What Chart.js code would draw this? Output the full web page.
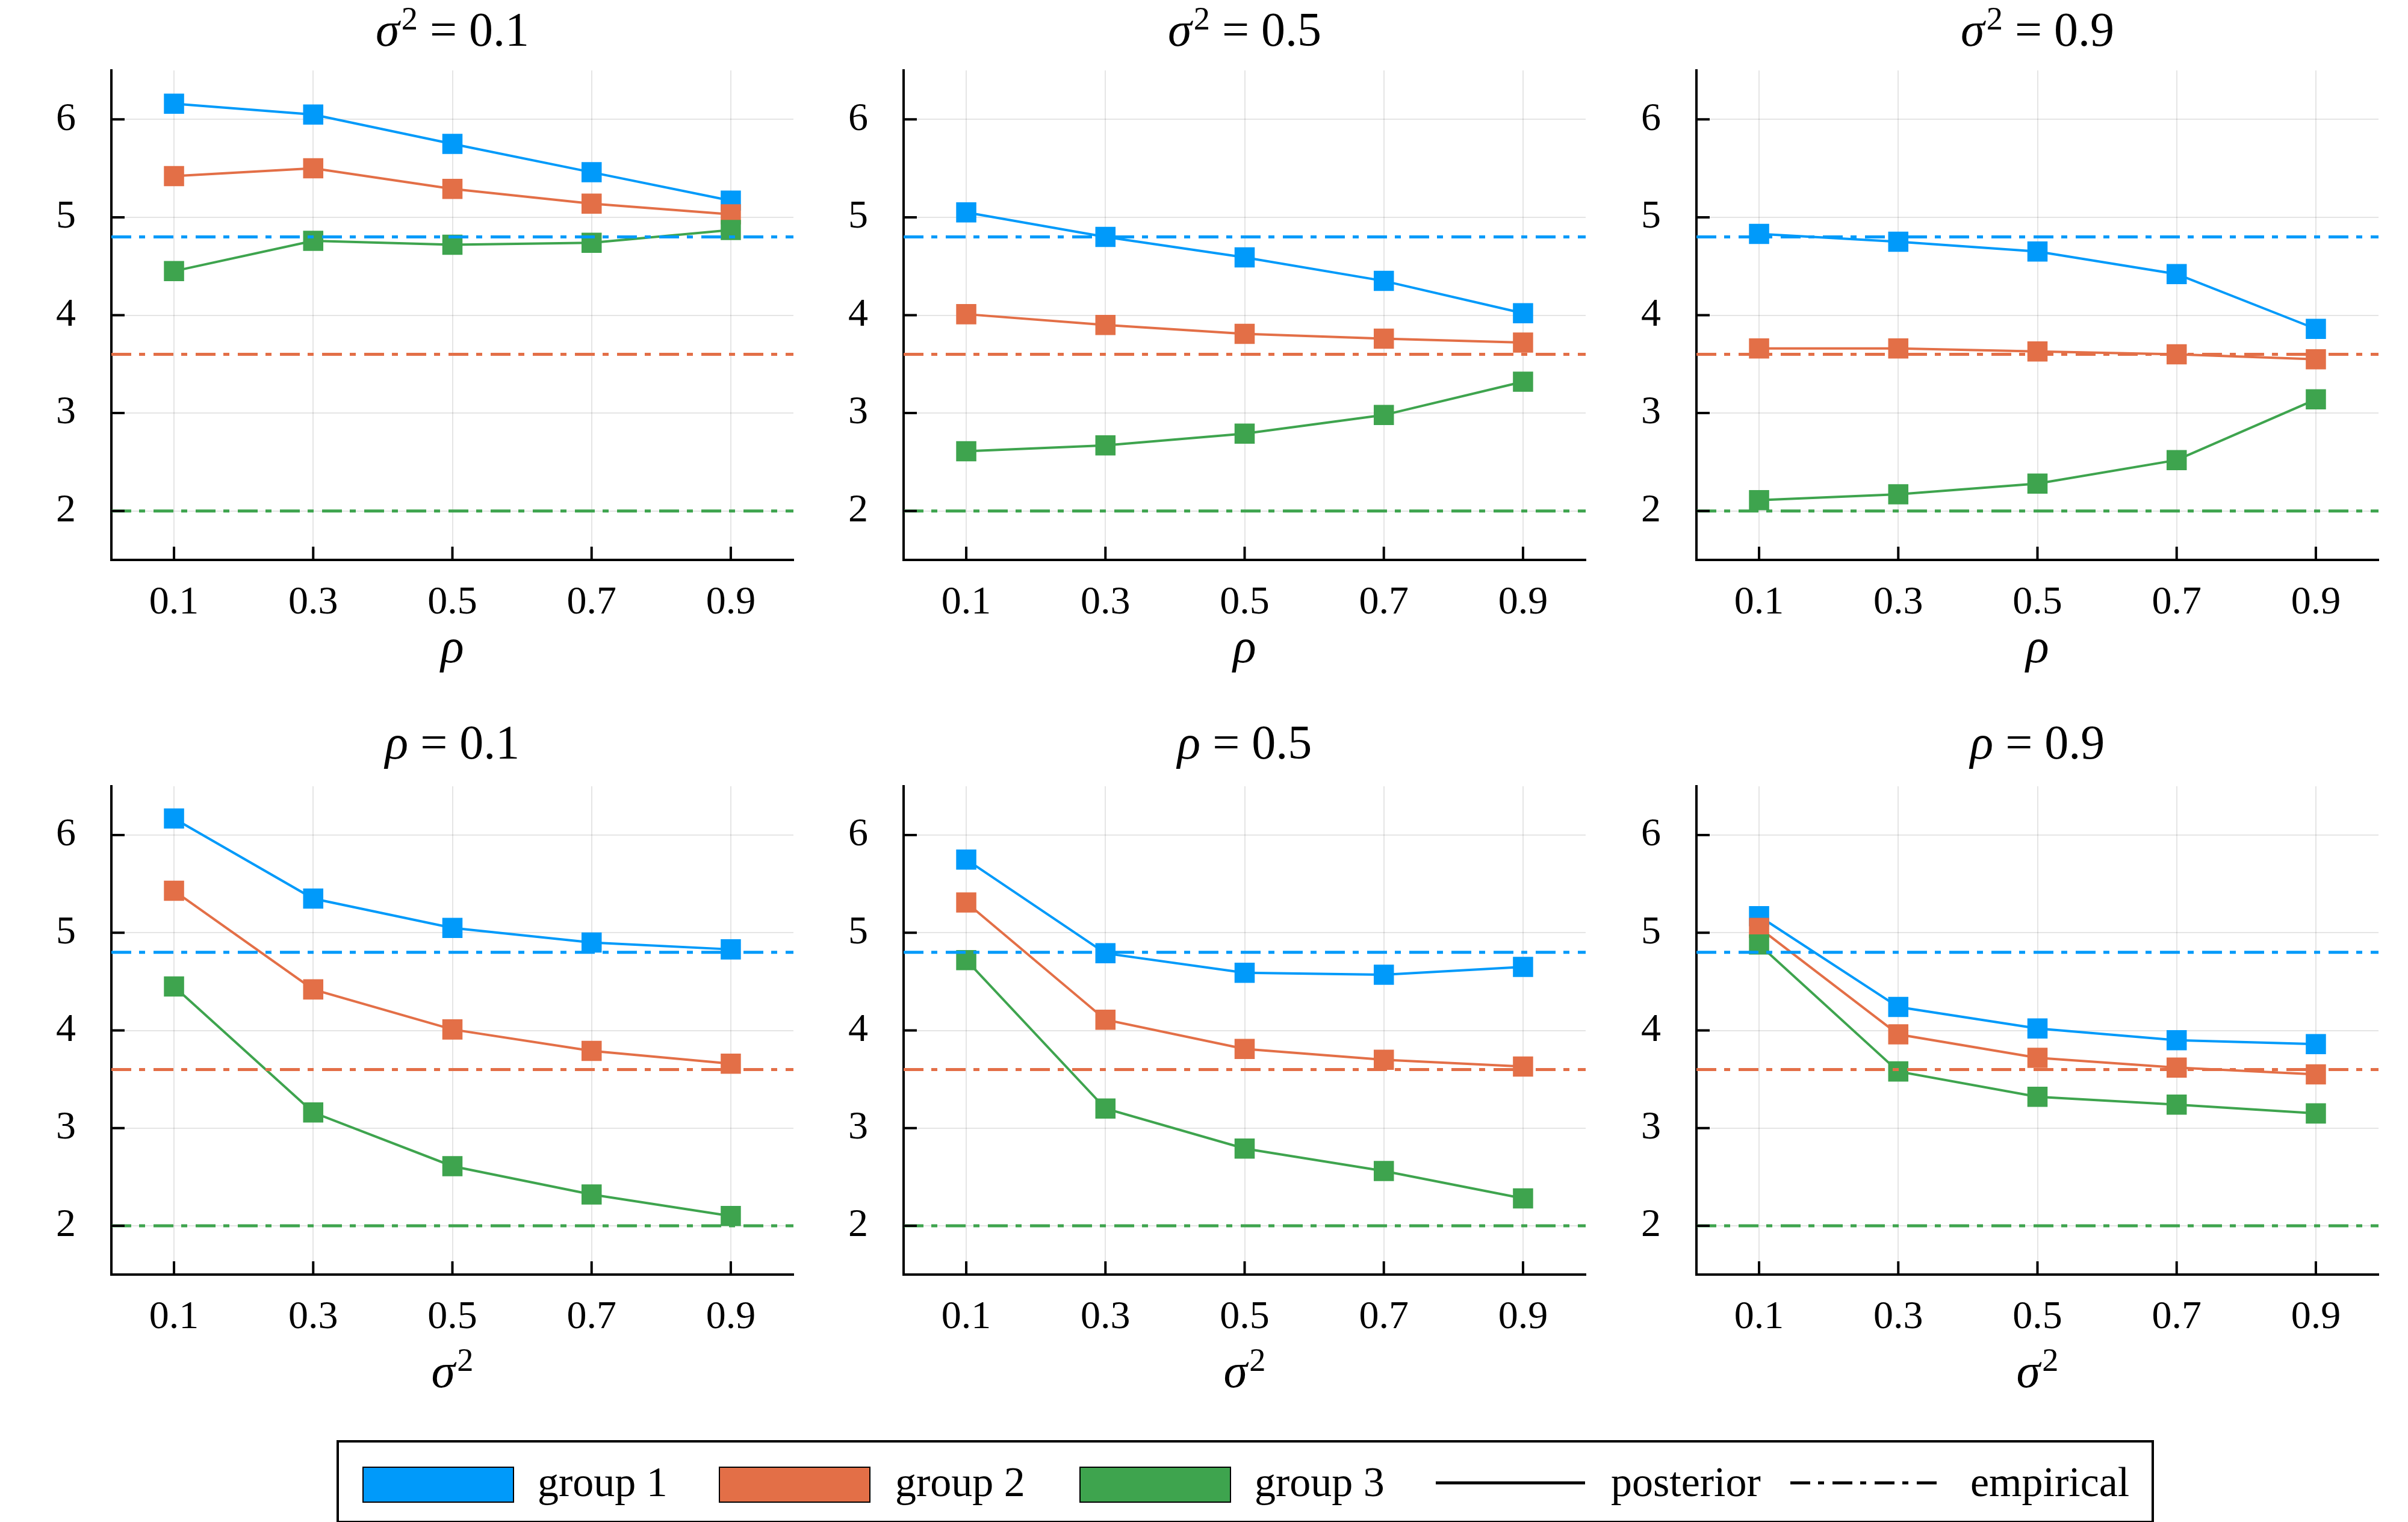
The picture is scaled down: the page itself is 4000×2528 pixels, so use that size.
<!DOCTYPE html>
<html>
<head>
<meta charset="utf-8">
<script src="https://cdn.jsdelivr.net/npm/chart.js@4.4.0/dist/chart.umd.min.js"></script>
<style>
  html, body { margin: 0; padding: 0; background: #fff; }
  body { width: 4000px; height: 2528px; position: relative; overflow: hidden; font-family: 'Liberation Serif', 'DejaVu Serif', serif; color: #000; }
  .abs { position: absolute; }
  .lbl { position: absolute; white-space: nowrap; line-height: 1; transform: translateX(-50%); }
  .sup { font-size: 0.68em; position: relative; top: -0.5em; margin-left: 0.06em; font-style: normal; }
  #legend { position: absolute; left: 559px; top: 2392px; width: 3011px; height: 130px; border: 4px solid #000; background: #fff; }
  .patch { position: absolute; height: 56px; width: 248px; border: 2px solid #000; top: 40px; }
  .ltxt { position: absolute; font-size: 70px; line-height: 1; white-space: nowrap; }
</style>
</head>
<body>
<script>
// ---------------- data ----------------
const xValues = [0.1, 0.3, 0.5, 0.7, 0.9];
const xTicks = [0.1, 0.3, 0.5, 0.7, 0.9];
const yTicks = [2, 3, 4, 5, 6];
const xMin = 0.01, xMax = 0.99;
const yMin = 1.5, yMax = 6.5;
const groupNames = ['group 1', 'group 2', 'group 3'];
const empirical = [4.8, 3.6, 2.0];

// top row: fixed sigma^2, varying rho
const sigma01_g1 = [6.16, 6.05, 5.75, 5.46, 5.17];
const sigma01_g2 = [5.42, 5.50, 5.29, 5.14, 5.03];
const sigma01_g3 = [4.45, 4.76, 4.72, 4.74, 4.87];
const sigma05_g1 = [5.05, 4.80, 4.59, 4.35, 4.02];
const sigma05_g2 = [4.01, 3.90, 3.81, 3.76, 3.72];
const sigma05_g3 = [2.61, 2.67, 2.79, 2.98, 3.32];
const sigma09_g1 = [4.83, 4.75, 4.65, 4.42, 3.86];
const sigma09_g2 = [3.66, 3.66, 3.63, 3.60, 3.55];
const sigma09_g3 = [2.11, 2.17, 2.28, 2.52, 3.14];
// bottom row: fixed rho, varying sigma^2
const rho01_g1 = [6.17, 5.35, 5.05, 4.90, 4.83];
const rho01_g2 = [5.43, 4.42, 4.01, 3.79, 3.66];
const rho01_g3 = [4.45, 3.16, 2.61, 2.32, 2.10];
const rho05_g1 = [5.75, 4.79, 4.59, 4.57, 4.65];
const rho05_g2 = [5.31, 4.11, 3.81, 3.70, 3.63];
const rho05_g3 = [4.72, 3.20, 2.79, 2.56, 2.28];
const rho09_g1 = [5.17, 4.24, 4.02, 3.90, 3.86];
const rho09_g2 = [5.05, 3.96, 3.72, 3.62, 3.55];
const rho09_g3 = [4.88, 3.58, 3.32, 3.24, 3.15];

const panelVar = ['σ', 'σ', 'σ', 'ρ', 'ρ', 'ρ'];
const panelVal = ['0.1', '0.5', '0.9', '0.1', '0.5', '0.9'];
const panelXLabel = ['ρ', 'ρ', 'ρ', 'σ', 'σ', 'σ'];
const panelSeries = [
  [sigma01_g1, sigma01_g2, sigma01_g3],
  [sigma05_g1, sigma05_g2, sigma05_g3],
  [sigma09_g1, sigma09_g2, sigma09_g3],
  [rho01_g1, rho01_g2, rho01_g3],
  [rho05_g1, rho05_g2, rho05_g3],
  [rho09_g1, rho09_g2, rho09_g3]
];

// ---------------- styling / layout ----------------
const colors = ['#009AFA', '#E36F47', '#3EA44E'];
const dashPattern = [33, 13, 10, 14];
const colLeft = [185, 1501, 2818];
const plotW = 1133;
const rowTop = [117, 1306];
const plotH = [813, 811];
const padL = 190, padT = 30, padR = 30, padB = 130;

const inwardTicks = {
  id: 'inwardTicks',
  afterDraw(chart) {
    const { ctx, chartArea, scales } = chart;
    ctx.save();
    ctx.strokeStyle = '#000';
    ctx.lineWidth = 4;
    ctx.beginPath();
    yTicks.forEach(v => {
      const py = scales.y.getPixelForValue(v);
      ctx.moveTo(chartArea.left, py); ctx.lineTo(chartArea.left + 22, py);
    });
    xTicks.forEach(v => {
      const px = scales.x.getPixelForValue(v);
      ctx.moveTo(px, chartArea.bottom); ctx.lineTo(px, chartArea.bottom - 22);
    });
    ctx.stroke();
    ctx.restore();
  }
};

function mathLabel(v, sq) {
  return '<i>' + v + '</i>' + (sq ? '<span class="sup">2</span>' : '');
}

for (let p = 0; p < 6; p++) {
  const col = p % 3, row = Math.floor(p / 3);
  const left = colLeft[col], top = rowTop[row], h = plotH[row];
  const cw = plotW + padL + padR, ch = h + padT + padB;
  const canvas = document.createElement('canvas');
  canvas.width = cw; canvas.height = ch;
  canvas.className = 'abs';
  canvas.style.left = (left - padL) + 'px';
  canvas.style.top = (top - padT) + 'px';
  canvas.style.width = cw + 'px';
  canvas.style.height = ch + 'px';
  document.body.appendChild(canvas);

  const datasets = [];
  empirical.forEach((e, g) => {
    datasets.push({
      label: groupNames[g] + ' empirical',
      data: [{ x: xMin, y: e }, { x: xMax, y: e }],
      borderColor: colors[g],
      borderWidth: 5,
      borderDash: dashPattern,
      pointRadius: 0,
      fill: false,
      order: 0
    });
  });
  panelSeries[p].forEach((vals, g) => {
    datasets.push({
      label: groupNames[g],
      data: xValues.map((x, i) => ({ x: x, y: vals[i] })),
      borderColor: colors[g],
      backgroundColor: colors[g],
      borderWidth: 4,
      pointStyle: 'rect',
      pointRadius: 23.7,
      pointBorderWidth: 0,
      pointBackgroundColor: colors[g],
      fill: false,
      tension: 0,
      order: 3 - g
    });
  });

  new Chart(canvas, {
    type: 'line',
    data: { datasets },
    options: {
      responsive: false,
      animation: false,
      devicePixelRatio: 1,
      layout: { padding: { left: 0, top: padT, right: padR, bottom: 0 } },
      plugins: { legend: { display: false }, tooltip: { enabled: false }, title: { display: false } },
      scales: {
        x: {
          type: 'linear', min: xMin, max: xMax,
          afterBuildTicks: s => { s.ticks = xTicks.map(v => ({ value: v })); },
          afterFit: s => { s.height = padB; s.paddingLeft = 0; s.paddingRight = 0; },
          grid: { color: 'rgba(0,0,0,0.1)', lineWidth: 2, drawTicks: false },
          border: { display: true, color: '#000', width: 4 },
          ticks: {
            padding: 32, color: '#000',
            font: { family: "'Liberation Serif', serif", size: 66 },
            callback: v => Number(v).toFixed(1), maxRotation: 0, autoSkip: false
          }
        },
        y: {
          type: 'linear', min: yMin, max: yMax,
          afterBuildTicks: s => { s.ticks = yTicks.map(v => ({ value: v })); },
          afterFit: s => { s.width = padL; s.paddingTop = 0; s.paddingBottom = 0; },
          grid: { color: 'rgba(0,0,0,0.1)', lineWidth: 2, drawTicks: false },
          border: { display: true, color: '#000', width: 4 },
          ticks: {
            padding: 59, color: '#000',
            font: { family: "'Liberation Serif', serif", size: 66 },
            callback: v => String(v), autoSkip: false
          }
        }
      }
    },
    plugins: [inwardTicks]
  });

  // title
  const cx = left + plotW / 2;
  const t = document.createElement('div');
  t.className = 'lbl';
  t.style.fontSize = '80px';
  t.style.left = cx + 'px';
  const titleBase = row === 0 ? 76 : 1260;
  t.style.top = (titleBase - 0.8375 * 80) + 'px';
  t.innerHTML = mathLabel(panelVar[p], panelVar[p] === 'σ') + ' = ' + panelVal[p];
  document.body.appendChild(t);

  // x axis label
  const xl = document.createElement('div');
  xl.className = 'lbl';
  xl.style.fontSize = '80px';
  xl.style.left = cx + 'px';
  const xlBase = row === 0 ? 1100 : 2304;
  xl.style.top = (xlBase - 0.8375 * 80) + 'px';
  xl.innerHTML = mathLabel(panelXLabel[p], panelXLabel[p] === 'σ');
  document.body.appendChild(xl);
}

// ---------------- legend ----------------
const legend = document.createElement('div');
legend.id = 'legend';
document.body.appendChild(legend);
const legLeft = 563, legTop = 2396; // inner origin
const patchX = [602, 1194, 1793];
const textX = [893, 1487, 2084];
const textBaseline = 2486;
groupNames.forEach((name, g) => {
  const pd = document.createElement('div');
  pd.className = 'patch';
  pd.style.left = (patchX[g] - legLeft) + 'px';
  pd.style.background = colors[g];
  legend.appendChild(pd);
  const tx = document.createElement('div');
  tx.className = 'ltxt';
  tx.style.left = (textX[g] - legLeft) + 'px';
  tx.style.top = (textBaseline - 0.8375 * 70 - legTop) + 'px';
  tx.textContent = name;
  legend.appendChild(tx);
});
const lineItems = [
  { x1: 2385, x2: 2633, tx: 2676, name: 'posterior', dash: null },
  { x1: 2974, x2: 3230, tx: 3273, name: 'empirical', dash: dashPattern }
];
lineItems.forEach(it => {
  const c = document.createElement('canvas');
  c.width = it.x2 - it.x1; c.height = 20;
  c.className = 'abs';
  c.style.left = (it.x1 - legLeft) + 'px';
  c.style.top = (2463 - 10 - legTop) + 'px';
  legend.appendChild(c);
  const ctx = c.getContext('2d');
  ctx.strokeStyle = '#000'; ctx.lineWidth = 5;
  if (it.dash) ctx.setLineDash(it.dash);
  ctx.beginPath(); ctx.moveTo(0, 10); ctx.lineTo(c.width, 10); ctx.stroke();
  const tx = document.createElement('div');
  tx.className = 'ltxt';
  tx.style.left = (it.tx - legLeft) + 'px';
  tx.style.top = (textBaseline - 0.8375 * 70 - legTop) + 'px';
  tx.textContent = it.name;
  legend.appendChild(tx);
});
</script>
</body>
</html>
